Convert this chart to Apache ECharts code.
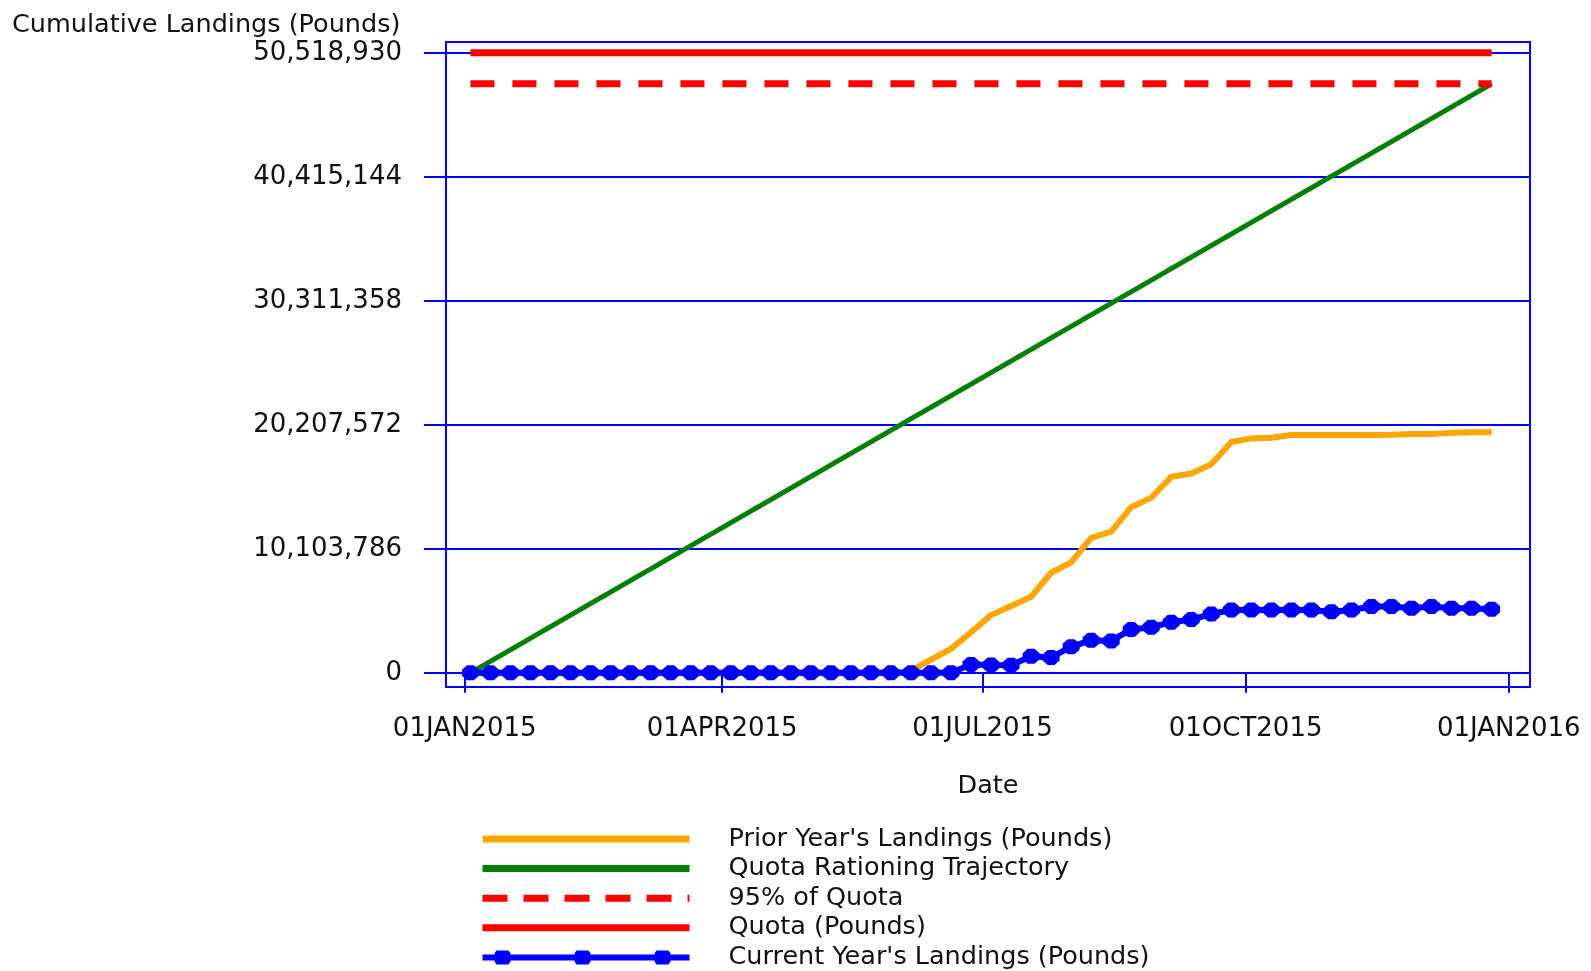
<!DOCTYPE html>
<html>
<head>
<meta charset="utf-8">
<title>Cumulative Landings</title>
<script src="https://cdn.jsdelivr.net/npm/echarts@6/dist/echarts.min.js"></script>
<style>
  html, body { margin: 0; padding: 0; background: #fff; }
  #chart { width: 1591px; height: 971px; }
</style>
</head>
<body>
<div id="chart"></div>
<script>
// weekly reporting dates (week ending Saturday)
const weekDates = [
  "2015-01-03", "2015-01-10", "2015-01-17", "2015-01-24", "2015-01-31",
  "2015-02-07", "2015-02-14", "2015-02-21", "2015-02-28",
  "2015-03-07", "2015-03-14", "2015-03-21", "2015-03-28",
  "2015-04-04", "2015-04-11", "2015-04-18", "2015-04-25",
  "2015-05-02", "2015-05-09", "2015-05-16", "2015-05-23", "2015-05-30",
  "2015-06-06", "2015-06-13", "2015-06-20", "2015-06-27",
  "2015-07-04", "2015-07-11", "2015-07-18", "2015-07-25",
  "2015-08-01", "2015-08-08", "2015-08-15", "2015-08-22", "2015-08-29",
  "2015-09-05", "2015-09-12", "2015-09-19", "2015-09-26",
  "2015-10-03", "2015-10-10", "2015-10-17", "2015-10-24", "2015-10-31",
  "2015-11-07", "2015-11-14", "2015-11-21", "2015-11-28",
  "2015-12-05", "2015-12-12", "2015-12-19", "2015-12-26"
];

const priorYear = [
  0, 0, 0, 0, 0, 0, 0, 0, 0, 0, 0, 0, 0, 0, 0, 0, 0, 0, 0, 0, 0, 0,
  150000, 1080000, 1950000, 3300000, 4700000, 5450000, 6200000, 8150000,
  9000000, 11000000, 11500000, 13500000, 14260000, 15970000, 16240000,
  17000000, 18800000, 19100000, 19150000, 19370000, 19370000, 19370000,
  19370000, 19370000, 19400000, 19460000, 19460000, 19550000, 19600000,
  19600000
];

const currentYear = [
  0, 0, 0, 0, 0, 0, 0, 0, 0, 0, 0, 0, 0, 0, 0, 0, 0, 0, 0, 0, 0, 0, 0, 0, 0,
  680000, 640000, 620000, 1350000, 1250000, 2120000, 2660000, 2600000,
  3530000, 3720000, 4120000, 4340000, 4790000, 5120000, 5120000, 5120000,
  5120000, 5120000, 4980000, 5120000, 5400000, 5400000, 5260000, 5400000,
  5260000, 5260000, 5180000
];

const trajectoryDates = ["2015-01-03", "2015-12-26"];
const trajectoryValues = [0, 47992984];
const quota95Values = [47992984, 47992984];
const quotaValues = [50518930, 50518930];

const yTicks = [0, 10103786, 20207572, 30311358, 40415144, 50518930];
const xTicks = ["2015-01-01", "2015-04-01", "2015-07-01", "2015-10-01", "2016-01-01"];
const monthNames = ["JAN", "FEB", "MAR", "APR", "MAY", "JUN", "JUL", "AUG", "SEP", "OCT", "NOV", "DEC"];

const seriesNames = [
  "Prior Year's Landings (Pounds)",
  "Quota Rationing Trajectory",
  "95% of Quota",
  "Quota (Pounds)",
  "Current Year's Landings (Pounds)"
];

const font = "DejaVu Sans";
const textColor = "#111";
const axisBlue = "#0000FF";

function utc(s) {
  const p = s.split("-").map(Number);
  return Date.UTC(p[0], p[1] - 1, p[2]);
}
function pairs(dates, values) {
  return dates.map((d, i) => [utc(d), values[i]]);
}
function dateLabel(v) {
  const d = new Date(v);
  const day = String(d.getUTCDate()).padStart(2, "0");
  return day + monthNames[d.getUTCMonth()] + d.getUTCFullYear();
}
function numLabel(v) {
  return Math.round(v).toString().replace(/\B(?=(\d{3})+(?!\d))/g, ",");
}

const chart = echarts.init(document.getElementById("chart"));

// legend swatches: plain lines, no dot in the middle
const hideDot = { opacity: 0 };

chart.setOption({
  animation: false,
  title: {
    text: "Cumulative Landings (Pounds)",
    left: 12,
    top: 12,
    padding: 0,
    textStyle: { fontFamily: font, fontSize: 25.5, fontWeight: "normal", color: textColor }
  },
  grid: {
    left: 446,
    right: 61,
    top: 42,
    bottom: 284,
    show: true,
    borderColor: axisBlue,
    borderWidth: 2,
    containLabel: false
  },
  legend: {
    orient: "vertical",
    left: 479,
    top: 826,
    height: 160,
    padding: 0,
    itemWidth: 207,
    itemHeight: 14,
    itemGap: 3.6,
    selectedMode: false,
    textStyle: { fontFamily: font, fontSize: 25.5, color: textColor, padding: [0, 0, 0, 34] },
    data: [
      { name: seriesNames[0], itemStyle: hideDot, lineStyle: { width: 7 } },
      { name: seriesNames[1], itemStyle: hideDot, lineStyle: { width: 7 } },
      { name: seriesNames[2], itemStyle: hideDot, lineStyle: { width: 7, type: [25, 16] } },
      { name: seriesNames[3], itemStyle: hideDot, lineStyle: { width: 7 } },
      {
        name: seriesNames[4],
        icon: "path://M0,4H207V10H0Z M14,0H26L28,3V11L26,14H14L12,11V3Z M94,0H106L108,3V11L106,14H94L92,11V3Z M174,0H186L188,3V11L186,14H174L172,11V3Z"
      }
    ]
  },
  xAxis: {
    // dates kept as UTC timestamps on a plain value axis
    type: "value",
    min: Date.UTC(2014, 11, 25, 11),
    max: Date.UTC(2016, 0, 8, 10),
    name: "Date",
    nameLocation: "middle",
    nameGap: 86,
    nameTextStyle: { fontFamily: font, fontSize: 25.5, color: textColor },
    axisLine: { show: true, lineStyle: { color: axisBlue, width: 2 } },
    axisTick: {
      show: true,
      inside: false,
      length: 20,
      customValues: xTicks.map(utc),
      lineStyle: { color: axisBlue, width: 2 }
    },
    axisLabel: {
      margin: 29,
      customValues: xTicks.map(utc),
      formatter: dateLabel,
      fontFamily: font,
      fontSize: 26,
      color: textColor,
      hideOverlap: false
    },
    splitLine: { show: false }
  },
  yAxis: {
    type: "value",
    min: -1157000,
    max: 51399000,
    axisLine: { show: true, lineStyle: { color: axisBlue, width: 2 } },
    axisTick: {
      show: true,
      inside: false,
      length: 22,
      customValues: yTicks,
      lineStyle: { color: axisBlue, width: 2 }
    },
    axisLabel: {
      margin: 44,
      customValues: yTicks,
      formatter: numLabel,
      fontFamily: font,
      fontSize: 26,
      color: textColor
    },
    splitLine: { show: true, lineStyle: { color: axisBlue, width: 2 } }
  },
  series: [
    {
      name: seriesNames[0],
      type: "line",
      data: pairs(weekDates, priorYear),
      symbol: "none",
      lineStyle: { color: "#FFA500", width: 6 },
      itemStyle: { color: "#FFA500" }
    },
    {
      name: seriesNames[1],
      type: "line",
      data: pairs(trajectoryDates, trajectoryValues),
      symbol: "none",
      lineStyle: { color: "#008000", width: 5 },
      itemStyle: { color: "#008000" }
    },
    {
      name: seriesNames[2],
      type: "line",
      data: pairs(trajectoryDates, quota95Values),
      symbol: "none",
      lineStyle: { color: "#FF0000", width: 7, type: [24, 18] },
      itemStyle: { color: "#FF0000" }
    },
    {
      name: seriesNames[3],
      type: "line",
      data: pairs(trajectoryDates, quotaValues),
      symbol: "none",
      lineStyle: { color: "#FF0000", width: 7 },
      itemStyle: { color: "#FF0000" }
    },
    {
      name: seriesNames[4],
      type: "line",
      data: pairs(weekDates, currentYear),
      symbol: "path://M3,0H7L10,3V7L7,10H3L0,7V3Z",
      symbolSize: [17, 15],
      showAllSymbol: true,
      lineStyle: { color: "#0000FF", width: 6 },
      itemStyle: { color: "#0000FF" }
    }
  ]
});
</script>
</body>
</html>
